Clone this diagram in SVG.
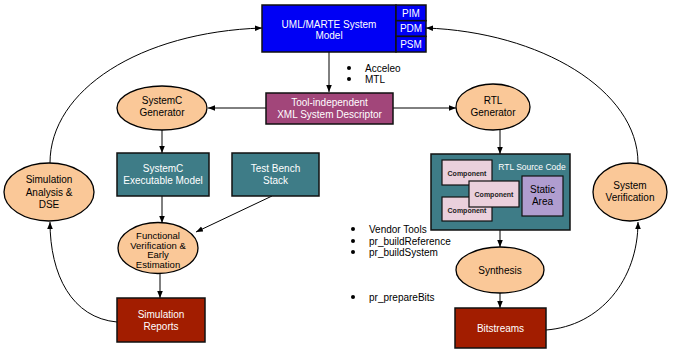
<svg xmlns="http://www.w3.org/2000/svg" width="676" height="350" viewBox="0 0 676 350">
<defs>
<marker id="ah" viewBox="0 0 10 10" refX="10" refY="5" markerWidth="7" markerHeight="7" orient="auto" markerUnits="userSpaceOnUse">
<path d="M0,1 L10,5 L0,9 z" fill="#000"/>
</marker>
<style>
text{font-family:"Liberation Sans",Arial,sans-serif;font-size:10px;text-anchor:middle}
.w{fill:#fff}
.k{fill:#000}
.ell{fill:#FAC898;stroke:#000;stroke-width:1.3}
.teal{fill:#3E7C87;stroke:#111;stroke-width:1.5}
.red{fill:#A21D00;stroke:#111;stroke-width:1.5}
.comp{fill:#EAD0DC;stroke:#111;stroke-width:1.2}
.ct{font-size:7px;font-weight:bold;fill:#222}
.line{fill:none;stroke:#000;stroke-width:1}
.bl{text-anchor:start;fill:#000}
</style>
</defs>

<g id="connectors">
<path class="line" d="M329,52 L329,92" marker-end="url(#ah)"/>
<path class="line" d="M266,108 L208,108" marker-end="url(#ah)"/>
<path class="line" d="M393,108 L456,108" marker-end="url(#ah)"/>
<path class="line" d="M162,130 L162,153" marker-end="url(#ah)"/>
<path class="line" d="M500,130 L500,154" marker-end="url(#ah)"/>
<path class="line" d="M162,196 L162,223" marker-end="url(#ah)"/>
<path class="line" d="M272,196 L196,232" marker-end="url(#ah)"/>
<path class="line" d="M160,273 L160,298" marker-end="url(#ah)"/>
<path class="line" d="M500,230 L500,247" marker-end="url(#ah)"/>
<path class="line" d="M500,292 L500,308" marker-end="url(#ah)"/>
<path class="line" d="M117,322 C72,318 50,275 50,222" marker-end="url(#ah)"/>
<path class="line" d="M50,163 C50,90 140,32 262,28" marker-end="url(#ah)"/>
<path class="line" d="M546,330 C600,326 638,280 638,222" marker-end="url(#ah)"/>
<path class="line" d="M638,163 C638,90 540,32 426,28" marker-end="url(#ah)"/>
</g>

<g id="uml">
<rect x="262" y="5" width="134" height="47" fill="#0000F5" stroke="#111" stroke-width="1.5"/>
<rect x="396" y="5" width="30" height="15.7" fill="#0000F5" stroke="#111" stroke-width="1.5"/>
<rect x="396" y="20.7" width="30" height="15.7" fill="#0000F5" stroke="#111" stroke-width="1.5"/>
<rect x="396" y="36.4" width="30" height="15.6" fill="#0000F5" stroke="#111" stroke-width="1.5"/>
<text class="w" x="329" y="28">UML/MARTE System</text>
<text class="w" x="329" y="39">Model</text>
<text class="w" x="411" y="17">PIM</text>
<text class="w" x="411" y="32">PDM</text>
<text class="w" x="411" y="48">PSM</text>
</g>

<g id="bullets1">
<circle cx="349" cy="68" r="2" fill="#000"/>
<circle cx="349" cy="79" r="2" fill="#000"/>
<text class="bl" x="365" y="72">Acceleo</text>
<text class="bl" x="365" y="83">MTL</text>
</g>

<g id="tool">
<rect x="266" y="93" width="127" height="31" fill="#A2467A" stroke="#111" stroke-width="1.5"/>
<text class="w" x="329.5" y="106">Tool-independent</text>
<text class="w" x="329.5" y="118">XML System Descriptor</text>
</g>

<g id="scgen">
<ellipse class="ell" cx="162" cy="108" rx="45" ry="22"/>
<text class="k" x="162" y="104">SystemC</text>
<text class="k" x="162" y="116">Generator</text>
</g>

<g id="rtlgen">
<ellipse class="ell" cx="493" cy="107" rx="37" ry="23"/>
<text class="k" x="493" y="104">RTL</text>
<text class="k" x="493" y="116">Generator</text>
</g>

<g id="scexec">
<rect class="teal" x="117" y="153" width="92" height="43"/>
<text class="w" x="163" y="172">SystemC</text>
<text class="w" x="163" y="184">Executable Model</text>
</g>

<g id="tb">
<rect class="teal" x="232" y="153" width="87" height="43"/>
<text class="w" x="275.5" y="172">Test Bench</text>
<text class="w" x="275.5" y="184">Stack</text>
</g>

<g id="rtlsrc">
<rect class="teal" x="431" y="154" width="139" height="76"/>
<text class="w" x="532" y="170" style="font-size:8.5px">RTL Source Code</text>
<rect class="comp" x="442" y="160" width="50" height="25"/>
<text class="ct" x="467" y="176">Component</text>
<rect class="comp" x="442" y="197" width="50" height="24"/>
<text class="ct" x="467" y="213">Component</text>
<rect class="comp" x="469" y="181" width="50" height="26"/>
<text class="ct" x="494" y="197">Component</text>
<rect x="522" y="176" width="41" height="40" fill="#B09DD0" stroke="#111" stroke-width="1.2"/>
<text class="k" x="542.5" y="193">Static</text>
<text class="k" x="542.5" y="205">Area</text>
</g>

<g id="funcver">
<ellipse class="ell" cx="158" cy="248" rx="40" ry="25.5"/>
<text class="k" x="158" y="238.5" style="font-size:9.5px">Functional</text>
<text class="k" x="158" y="248.5" style="font-size:9.5px">Verification &amp;</text>
<text class="k" x="158" y="258" style="font-size:9.5px">Early</text>
<text class="k" x="158" y="267.5" style="font-size:9.5px">Estimation</text>
</g>

<g id="bullets2">
<circle cx="353" cy="229" r="2" fill="#000"/>
<circle cx="353" cy="241" r="2" fill="#000"/>
<circle cx="353" cy="252" r="2" fill="#000"/>
<circle cx="353" cy="297" r="2" fill="#000"/>
<text class="bl" x="369" y="233">Vendor Tools</text>
<text class="bl" x="369" y="245">pr_buildReference</text>
<text class="bl" x="369" y="256">pr_buildSystem</text>
<text class="bl" x="369" y="301">pr_prepareBits</text>
</g>

<g id="synth">
<ellipse class="ell" cx="500" cy="270" rx="44" ry="23"/>
<text class="k" x="500" y="274">Synthesis</text>
</g>

<g id="simrep">
<rect class="red" x="117" y="298" width="88" height="44"/>
<text class="w" x="161" y="318">Simulation</text>
<text class="w" x="161" y="330">Reports</text>
</g>

<g id="bits">
<rect class="red" x="455" y="308" width="91" height="40"/>
<text class="w" x="500.5" y="332">Bitstreams</text>
</g>

<g id="simana">
<ellipse class="ell" cx="49" cy="192" rx="45" ry="29"/>
<text class="k" x="49" y="183">Simulation</text>
<text class="k" x="49" y="196">Analysis &amp;</text>
<text class="k" x="49" y="208">DSE</text>
</g>

<g id="sysver">
<ellipse class="ell" cx="630" cy="192" rx="37" ry="29"/>
<text class="k" x="630" y="189">System</text>
<text class="k" x="630" y="201">Verification</text>
</g>
</svg>
